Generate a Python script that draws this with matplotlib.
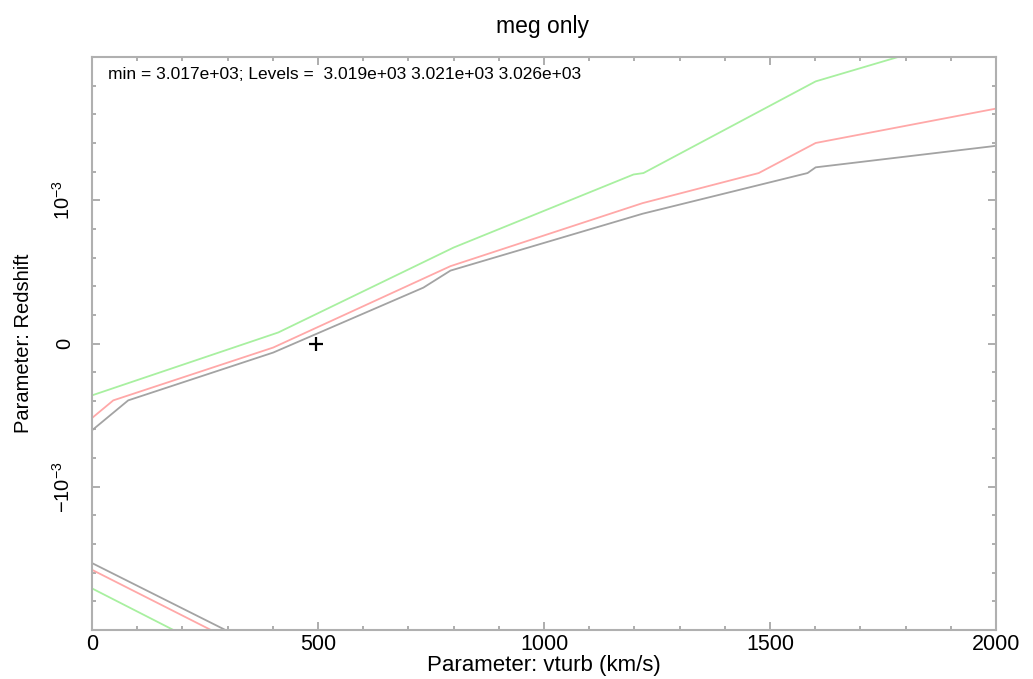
import numpy as np
import matplotlib
matplotlib.use("Agg")
import matplotlib.pyplot as plt
from matplotlib.ticker import MultipleLocator

plt.rcParams['font.family'] = ['Liberation Sans', 'DejaVu Sans']
plt.rcParams['mathtext.fontset'] = 'custom'
plt.rcParams['mathtext.rm'] = 'Liberation Sans'
plt.rcParams['mathtext.it'] = 'Liberation Sans'

# contour lines (vturb km/s, redshift)
gray_upper_x = [0, 80, 401, 733, 793, 1218, 1583, 1601, 2000]
gray_upper_y = [-6.06e-4, -3.97e-4, -0.63e-4, 3.9e-4, 5.09e-4, 9.06e-4, 11.9e-4, 12.3e-4, 13.8e-4]
red_upper_x = [0, 47, 401, 793, 1218, 1475, 1601, 2000]
red_upper_y = [-5.2e-4, -3.97e-4, -0.28e-4, 5.4e-4, 9.8e-4, 11.9e-4, 14.0e-4, 16.4e-4]
green_upper_x = [0, 412, 800, 1198, 1220, 1601, 1783]
green_upper_y = [-3.62e-4, 0.77e-4, 6.7e-4, 11.8e-4, 11.9e-4, 18.3e-4, 20.0e-4]

gray_lower_x = [0, 295]
gray_lower_y = [-1.533e-3, -2.0e-3]
red_lower_x = [0, 263]
red_lower_y = [-1.58e-3, -2.0e-3]
green_lower_x = [0, 180]
green_lower_y = [-1.71e-3, -2.0e-3]

best_fit = (495, 0.0)

title = "meg only"
info = "min = 3.017e+03; Levels =  3.019e+03 3.021e+03 3.026e+03"

fig = plt.figure(figsize=(10.33, 6.79), dpi=100)
ax = fig.add_axes([0.0891, 0.0722, 0.8751, 0.8438])

c_gray = '#a3a3a3'
c_red = '#ffa8a8'
c_green = '#a8f0a0'
lw = 1.3
ax.plot(gray_upper_x, gray_upper_y, color=c_gray, lw=lw)
ax.plot(red_upper_x, red_upper_y, color=c_red, lw=lw)
ax.plot(green_upper_x, green_upper_y, color=c_green, lw=lw)
ax.plot(gray_lower_x, gray_lower_y, color=c_gray, lw=lw)
ax.plot(red_lower_x, red_lower_y, color=c_red, lw=lw)
ax.plot(green_lower_x, green_lower_y, color=c_green, lw=lw)

ax.plot([best_fit[0]], [best_fit[1]], marker='+', color='black', ms=10, mew=1.6)

ax.set_xlim(0, 2000)
ax.set_ylim(-2e-3, 2e-3)

ax.xaxis.set_minor_locator(MultipleLocator(100))
ax.yaxis.set_minor_locator(MultipleLocator(2e-4))
ax.set_xticks([0, 500, 1000, 1500, 2000])
ax.set_xticklabels(['0', '500', '1000', '1500', '2000'], fontsize=15.5)
ax.set_yticks([-1e-3, 0, 1e-3])
ax.set_yticklabels([r'$-10^{-3}$', '0', r'$10^{-3}$'], fontsize=14.5, rotation=90, va='center')

ax.tick_params(which='both', direction='in', top=True, right=True, colors='#a0a0a0',
               labelcolor='black', width=1.2)
ax.tick_params(which='major', length=6, pad=3)
ax.tick_params(which='minor', length=3)
ax.tick_params(axis='y', which='major', pad=13)

for s in ax.spines.values():
    s.set_color('#b0b0b0')
    s.set_linewidth(1.5)

ax.set_xlabel("Parameter: vturb (km/s)", fontsize=16, labelpad=0)
ax.set_ylabel("Parameter: Redshift", fontsize=14.5, labelpad=14)
ax.text(0.018, 0.983, info, transform=ax.transAxes, fontsize=12.5, va='top', ha='left')
fig.text(0.525, 0.978, title, fontsize=16.5, ha='center', va='top')

fig.savefig("out.png", dpi=100, facecolor='white')
